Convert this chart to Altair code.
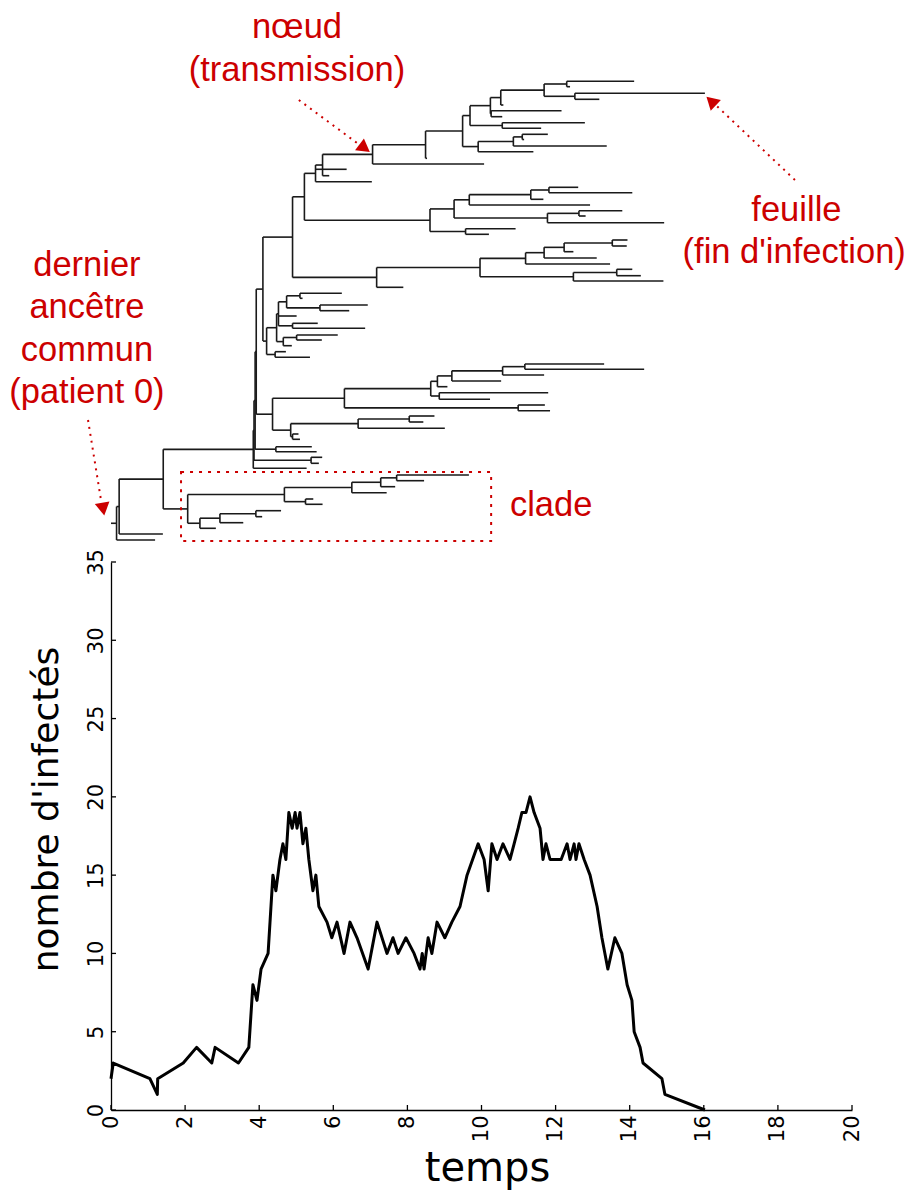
import altair as alt
import pandas as pd
from collections import defaultdict

# ---------------- courbe épidémique ----------------
temps_courbe = [0.00, 0.06, 1.05, 1.25, 1.26, 1.95, 2.31, 2.72, 2.81, 3.44, 3.72, 3.83, 3.94, 4.05,
                4.24, 4.37, 4.45, 4.56, 4.64, 4.72, 4.80, 4.89, 4.97, 5.02, 5.10, 5.18, 5.26, 5.34,
                5.45, 5.53, 5.61, 5.83, 5.96, 6.10, 6.29, 6.45, 6.64, 6.94, 7.18, 7.45, 7.61, 7.75,
                7.96, 8.18, 8.34, 8.40, 8.45, 8.56, 8.66, 8.80, 9.01, 9.20, 9.42, 9.61, 9.91, 10.07,
                10.18, 10.28, 10.42, 10.58, 10.77, 10.88, 10.99, 11.09, 11.20, 11.31, 11.42, 11.58,
                11.66, 11.74, 11.85, 12.15, 12.31, 12.39, 12.50, 12.55, 12.63, 12.77, 12.93, 13.12,
                13.25, 13.41, 13.60, 13.79, 13.93, 14.06, 14.12, 14.28, 14.36, 14.87, 14.95, 16.03]
infectes = [2, 3, 2, 1, 2, 3, 4, 3, 4, 3, 4, 8, 7, 9,
            10, 15, 14, 16, 17, 16, 19, 18, 19, 18, 19, 17, 18, 16,
            14, 15, 13, 12, 11, 12, 10, 12, 11, 9, 12, 10, 11, 10,
            11, 10, 9, 10, 9, 11, 10, 12, 11, 12, 13, 15, 17, 16,
            14, 17, 16, 17, 16, 17, 18, 19, 19, 20, 19, 18,
            16, 17, 16, 16, 17, 16, 17, 16, 17, 16, 15, 13,
            11, 9, 11, 10, 8, 7, 5, 4, 3, 2, 1, 0]

graduations_x = [0, 2, 4, 6, 8, 10, 12, 14, 16, 18, 20]
graduations_y = [0, 5, 10, 15, 20, 25, 30, 35]

# ---------------- arbre de transmission ----------------
# noeuds internes : (id, parent, temps)
noeuds_internes = [
    ("r", None, 0.00), ("n1", "r", 0.15), ("n2", "n1", 0.22), ("n3", "n2", 1.41),
    ("clade", "n3", 2.07), ("A", "n3", 3.84),
    ("c1", "clade", 4.68), ("c2", "c1", 6.50), ("c3", "c2", 7.28), ("c4", "c3", 7.71),
    ("c5", "c1", 5.25), ("c6", "clade", 2.40), ("c7", "c6", 2.94), ("c8", "c7", 3.91),
    ("B", "A", 3.86), ("C", "B", 3.89), ("g1", "B", 5.40), ("D", "C", 3.92), ("g2", "C", 4.45),
    ("E", "D", 4.10), ("F", "D", 4.36),
    ("f1", "F", 6.30), ("f2", "f1", 8.63), ("f3", "f2", 8.81), ("f4", "f3", 9.20),
    ("f5", "f4", 10.57), ("f6", "f5", 11.17), ("f7", "f2", 8.86), ("f8", "f1", 10.99),
    ("f9", "F", 4.85), ("f10", "f9", 6.67), ("f11", "f10", 8.05), ("f12", "f9", 4.90),
    ("H", "E", 4.20), ("h1", "H", 4.47), ("h2", "h1", 4.52), ("h3", "h2", 4.74),
    ("h4", "h3", 5.10), ("h5", "h3", 5.64), ("h6", "h2", 4.90), ("h7", "h1", 4.65),
    ("h8", "h7", 5.01), ("h9", "H", 4.43),
    ("G", "E", 4.90), ("g3", "G", 5.22), ("g4", "g3", 5.52), ("g5", "g4", 5.71),
    ("g6", "g5", 7.06), ("g7", "g6", 8.49), ("g8", "g7", 9.49), ("g9", "g8", 9.69),
    ("g10", "g8", 9.91), ("g11", "g9", 10.24), ("g12", "g9", 10.56), ("g13", "g11", 10.52),
    ("g14", "g11", 10.26), ("g15", "g13", 11.69), ("g16", "g15", 12.30), ("g17", "g15", 12.52),
    ("g18", "g10", 10.86), ("g19", "g18", 11.10),
    ("g20", "g3", 8.61), ("b1", "g20", 9.26), ("b2", "g20", 9.57), ("b3", "b1", 9.67),
    ("b4", "b1", 11.78), ("b5", "b3", 11.33), ("b6", "b5", 11.82), ("b7", "b4", 12.63),
    ("g21", "G", 7.17), ("k1", "g21", 9.96), ("k2", "k1", 11.19), ("k3", "k1", 12.48),
    ("k4", "k2", 11.69), ("k5", "k4", 12.23), ("k6", "k5", 13.53), ("k7", "k3", 13.65),
]

# feuilles : (parent, temps de fin d'infection, position verticale)
feuilles = [
    ("n1", 1.19, 540.0), ("n2", 1.40, 534.0),
    ("c4", 9.66, 475.0), ("c4", 8.45, 480.7), ("c3", 7.67, 486.7), ("c2", 7.44, 492.7),
    ("c5", 5.46, 499.0), ("c5", 5.71, 504.3),
    ("c8", 4.59, 510.7), ("c8", 4.08, 516.7), ("c7", 3.57, 522.7), ("c6", 2.83, 528.3),
    ("A", 5.28, 468.3), ("g1", 5.70, 457.3), ("g1", 5.61, 463.3),
    ("g2", 5.42, 446.7), ("g2", 5.55, 451.7),
    ("f6", 13.31, 364.0), ("f6", 14.39, 369.3), ("f5", 11.69, 375.0), ("f4", 10.53, 381.0),
    ("f3", 9.08, 386.7), ("f7", 11.80, 392.7), ("f7", 10.23, 399.3),
    ("f8", 11.71, 405.0), ("f8", 11.85, 410.7),
    ("f11", 8.73, 416.0), ("f11", 8.43, 422.0), ("f10", 9.01, 428.3),
    ("f12", 5.06, 434.0), ("f12", 5.10, 439.3),
    ("h4", 6.23, 293.3), ("h4", 5.17, 298.3), ("h5", 6.93, 305.0), ("h5", 6.43, 310.7),
    ("h2", 5.01, 316.0), ("h6", 5.58, 323.3), ("h6", 6.86, 328.3),
    ("h8", 6.12, 335.0), ("h8", 5.69, 340.0), ("h7", 4.88, 345.7),
    ("h9", 4.72, 351.7), ("h9", 5.37, 357.3),
    ("g5", 5.89, 175.7), ("g4", 6.36, 169.3), ("g4", 7.04, 181.7),
    ("g6", 10.07, 164.0), ("g7", 8.53, 158.3),
    ("g12", 12.79, 122.7), ("g12", 11.61, 128.3),
    ("g14", 12.16, 110.7), ("g14", 10.56, 116.7), ("g13", 10.59, 105.0),
    ("g16", 14.12, 81.3), ("g16", 12.39, 86.7), ("g17", 16.03, 93.3), ("g17", 13.18, 99.3),
    ("g10", 11.40, 151.7), ("g19", 11.79, 134.3), ("g19", 11.15, 139.5), ("g18", 13.38, 146.0),
    ("b2", 10.92, 228.7), ("b2", 10.20, 234.3), ("b3", 12.93, 205.0),
    ("b6", 12.61, 187.3), ("b6", 14.07, 192.7), ("b5", 11.67, 199.3),
    ("b7", 13.80, 210.7), ("b7", 12.81, 216.0), ("b4", 14.93, 222.7),
    ("g21", 7.89, 287.3), ("k2", 13.47, 264.0), ("k4", 13.11, 258.0),
    ("k6", 13.94, 240.0), ("k6", 13.92, 246.0), ("k5", 12.48, 251.7),
    ("k7", 14.07, 269.3), ("k7", 14.30, 275.7), ("k3", 14.91, 281.0),
]

# ---------------- annotations ----------------
textes = ["nœud", "(transmission)", "feuille", "(fin d'infection)",
          "dernier", "ancêtre", "commun", "(patient 0)", "clade"]
textes_t = [5.02, 5.02, 18.50, 18.44, -0.65, -0.65, -0.65, -0.65, 11.88]
textes_y = [38, 81, 221, 263, 276, 318, 361, 403, 516]

fleche_t0 = [5.07, 18.46, -0.62]
fleche_y0 = [100, 180, 420]
fleche_t1 = [6.64, 16.35, -0.27]
fleche_y1 = [143, 106, 500]
pointe_t = [6.80, 16.24, -0.22]
pointe_y = [146.9, 102.5, 507.0]
pointe_angle = [126.6, 313.3, 170.4]

cadre_t = [1.89, 10.26]
cadre_y = [472, 541]

# ---------------- construction de l'arbre ----------------
t_of = {nid: t for nid, _, t in noeuds_internes}
enfants = defaultdict(list)
for nid, p, _ in noeuds_internes:
    if p is not None:
        enfants[p].append(("n", nid))
for i, (p, _, _) in enumerate(feuilles):
    enfants[p].append(("f", i))

y_of, span_of = {}, {}


def calc_y(nid):
    ys = []
    for kind, c in enfants[nid]:
        ys.append(feuilles[c][2] if kind == "f" else calc_y(c))
    span_of[nid] = (min(ys), max(ys))
    y_of[nid] = (min(ys) + max(ys)) / 2
    return y_of[nid]


calc_y("r")

horiz = []
for nid, p, t in noeuds_internes:
    if p is not None:
        horiz.append({"t0": t_of[p], "t1": t, "y": y_of[nid]})
for p, t, y in feuilles:
    horiz.append({"t0": t_of[p], "t1": t, "y": y})
vert = [{"t": t_of[n], "y0": span_of[n][0], "y1": span_of[n][1]} for n in span_of]

df_h = pd.DataFrame(horiz)
df_v = pd.DataFrame(vert)
df_c = pd.DataFrame({"temps": temps_courbe, "infectes": infectes})
df_gx = pd.DataFrame({"temps": graduations_x})
df_gy = pd.DataFrame({"n": graduations_y})
df_txt = pd.DataFrame({"texte": textes, "t": textes_t, "y": textes_y})
df_fl = pd.DataFrame({"t0": fleche_t0, "y0": fleche_y0, "t1": fleche_t1, "y1": fleche_y1})
df_pt = pd.DataFrame({"t": pointe_t, "y": pointe_y, "angle": pointe_angle})
df_cadre = pd.DataFrame({"t0": [cadre_t[0]], "t1": [cadre_t[1]], "y0": [cadre_y[0]], "y1": [cadre_y[1]]})

# ---------------- graphique ----------------
W, H = 741, 1102
ROUGE = "#cc0000"
x_scale = alt.Scale(domain=[0, 20], nice=False, zero=False)
y_count = alt.Scale(domain=[0, 35], range=[H, H - 548], nice=False, zero=False)
y_tree = alt.Scale(domain=[8, 1110], range=[0, H], nice=False, zero=False)

ax_x = alt.Axis(values=graduations_x, format="d", labelAngle=-90, labelAlign="right",
                labelBaseline="middle", labelFontSize=21, labelFont="DejaVu Sans",
                labelColor="black", labelPadding=5, labelOverlap=False, ticks=False,
                domainColor="black", domainWidth=1.3, grid=False,
                title="temps", titleFont="DejaVu Sans", titleFontSize=40,
                titleFontWeight="normal", titleColor="black", titlePadding=7,
                titleX=376)
ax_y = alt.Axis(values=graduations_y, format="d", orient="left", labelAngle=-90,
                labelAlign="center", labelBaseline="bottom", labelFontSize=21,
                labelFont="DejaVu Sans", labelColor="black", labelPadding=5,
                labelOverlap=False, ticks=False, domainColor="black", domainWidth=1.3,
                grid=False, title="nombre d'infectés", titleFont="DejaVu Sans",
                titleFontSize=36, titleFontWeight="normal", titleColor="black",
                titlePadding=20, titleY=801)

X = lambda f: alt.X(f, type="quantitative", scale=x_scale, axis=ax_x)

courbe = alt.Chart(df_c).mark_line(color="black", strokeWidth=3, strokeJoin="round").encode(
    x=X("temps"), y=alt.Y("infectes:Q", scale=y_count, axis=ax_y))

ticks_x = alt.Chart(df_gx).mark_rule(color="black", strokeWidth=1.3).encode(
    x=X("temps"), y=alt.value(H), y2=alt.value(H - 5))
ticks_y = alt.Chart(df_gy).mark_rule(color="black", strokeWidth=1.3).encode(
    y=alt.Y("n:Q", scale=y_count, axis=None), x=alt.value(0), x2=alt.value(5))

arbre_h = alt.Chart(df_h).mark_rule(color="#1a1a1a", strokeWidth=1.6).encode(
    x=X("t0"), x2="t1:Q", y=alt.Y("y:Q", scale=y_tree, axis=None))
arbre_v = alt.Chart(df_v).mark_rule(color="#1a1a1a", strokeWidth=1.6).encode(
    x=X("t"), y=alt.Y("y0:Q", scale=y_tree, axis=None), y2="y1:Q")

cadre = alt.Chart(df_cadre).mark_rect(fillOpacity=0, stroke=ROUGE, strokeWidth=2,
                                       strokeDash=[3, 6]).encode(
    x=X("t0"), x2="t1:Q", y=alt.Y("y0:Q", scale=y_tree, axis=None), y2="y1:Q")

txt = alt.Chart(df_txt).mark_text(font="Liberation Sans", fontSize=34.5, color=ROUGE,
                                  align="center", baseline="alphabetic").encode(
    x=X("t"), y=alt.Y("y:Q", scale=y_tree, axis=None), text="texte:N")

fleches = alt.Chart(df_fl).mark_rule(color=ROUGE, strokeWidth=2, strokeDash=[2, 5]).encode(
    x=X("t0"), x2="t1:Q", y=alt.Y("y0:Q", scale=y_tree, axis=None), y2="y1:Q")

pointes = alt.Chart(df_pt).mark_point(shape="triangle", filled=True, color=ROUGE,
                                      size=220, opacity=1).encode(
    x=X("t"), y=alt.Y("y:Q", scale=y_tree, axis=None),
    angle=alt.Angle("angle:Q", scale=None))

chart = alt.layer(courbe, ticks_x, ticks_y, arbre_h, arbre_v, cadre, txt, fleches, pointes).resolve_scale(
    y="independent").properties(
    width=W, height=H, background="white",
    autosize=alt.AutoSizeParams(type="none"),
    padding={"left": 103, "top": 0, "right": 55, "bottom": 81},
).configure_view(strokeWidth=0)

chart.save("out.html", embed_options={"renderer": "svg", "actions": False})
